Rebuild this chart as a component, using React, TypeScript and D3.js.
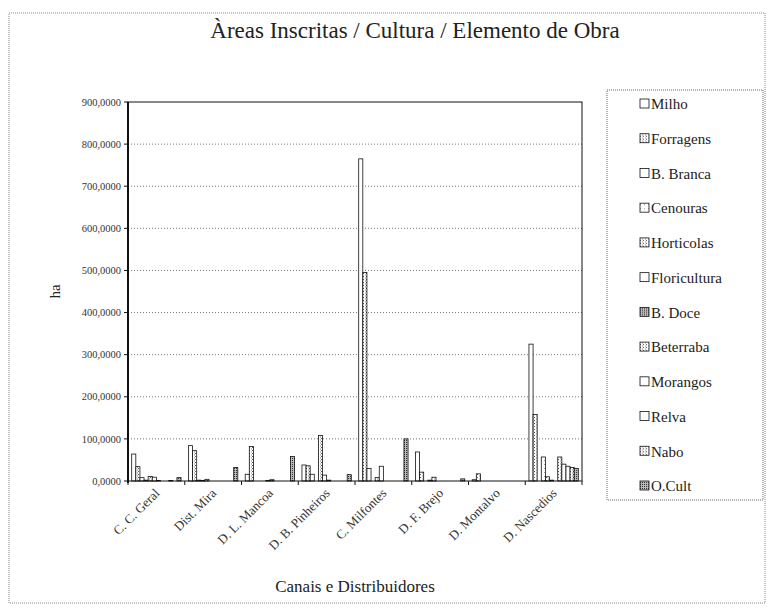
import React from 'react';
import * as d3 from 'd3';

const categories = ['C. C. Geral', 'Dist. Mira', 'D. L. Mancoa', 'D. B. Pinheiros', 'C. Milfontes', 'D. F. Brejo', 'D. Montalvo', 'D. Nascedios'];
const seriesNames = ['Milho', 'Forragens', 'B. Branca', 'Cenouras', 'Horticolas', 'Floricultura', 'B. Doce', 'Beterraba', 'Morangos', 'Relva', 'Nabo', 'O.Cult'];

const milho = [64, 84, 16, 38, 765, 69, 3, 325];
const forragens = [34, 72, 82, 36, 495, 21, 17, 158];
const bBranca = [8, 2, 0, 16, 30, 0, 0, 0];
const cenouras = [2, 1, 0, 0, 0, 2, 0, 57];
const horticolas = [11, 4, 0, 108, 8, 9, 0, 10];
const floricultura = [9, 0, 1, 14, 35, 0, 0, 2];
const bDoce = [1, 0, 3, 2, 0, 0, 0, 0];
const beterraba = [0, 0, 0, 0, 0, 0, 0, 57];
const morangos = [0, 0, 0, 0, 0, 0, 0, 40];
const relva = [1, 0, 0, 0, 0, 0, 0, 35];
const nabo = [0, 0, 0, 0, 0, 0, 0, 32];
const oCult = [8, 32, 58, 15, 100, 5, 0, 30];

const yTicks = [0, 100, 200, 300, 400, 500, 600, 700, 800, 900];

const seriesValues = [milho, forragens, bBranca, cenouras, horticolas, floricultura, bDoce, beterraba, morangos, relva, nabo, oCult];
// fill style per series: white, light dots, dark dots
const seriesFill = ['white', 'url(#light)', 'white', 'url(#faint)', 'url(#light)', 'white', 'url(#dark)', 'url(#light)', 'white', 'white', 'url(#light)', 'url(#dark)'];

const width = 767;
const height = 612;
const plot = { left: 128, right: 582, top: 102, bottom: 481 };
const font = '"Liberation Serif", "Times New Roman", serif';

const fmt = (v: number) => v.toFixed(4).replace('.', ',');

const App: React.FC = () => {
    const x0 = d3.scaleBand<string>().domain(categories).range([plot.left, plot.right]);
    const x1 = d3.scaleBand<string>().domain(seriesNames).range([0, x0.bandwidth()]).paddingOuter(0.9);
    const y = d3.scaleLinear().domain([0, 900]).range([plot.bottom, plot.top]);
    const legendY = d3.scalePoint<string>().domain(seriesNames).range([104, 486]);

    return (
        <svg width={width} height={height} style={{ position: 'absolute', left: 0, top: 0, background: 'white' }}>
            <defs>
                <pattern id="light" width="3" height="3" patternUnits="userSpaceOnUse">
                    <rect width="3" height="3" fill="white" />
                    <rect width="1" height="1" fill="#555" />
                    <rect x="2" y="1.5" width="1" height="1" fill="#888" />
                </pattern>
                <pattern id="faint" width="4" height="4" patternUnits="userSpaceOnUse">
                    <rect width="4" height="4" fill="white" />
                    <rect width="1" height="1" fill="#999" />
                </pattern>
                <pattern id="dark" width="2" height="2" patternUnits="userSpaceOnUse">
                    <rect width="2" height="2" fill="#bbb" />
                    <rect width="1" height="1" fill="#333" />
                </pattern>
            </defs>

            <rect x={9} y={13} width={756} height={590} fill="none" stroke="#888" strokeDasharray="1,1" />

            <text x={415} y={38} textAnchor="middle" fontFamily={font} fontSize={23} fill="#222">
                Àreas Inscritas / Cultura / Elemento de Obra
            </text>

            {/* gridlines */}
            <g stroke="#777" strokeDasharray="1,2">
                {yTicks.slice(1, -1).map(t => (
                    <line key={t} x1={plot.left} x2={plot.right} y1={y(t)} y2={y(t)} />
                ))}
            </g>

            {/* bars */}
            {seriesNames.map((s, si) => (
                <g key={s} fill={seriesFill[si]} stroke="#111" strokeWidth={0.8}>
                    {categories.map((c, ci) => {
                        const v = seriesValues[si][ci];
                        if (v <= 0) return null;
                        return (
                            <rect key={c} x={(x0(c) ?? 0) + (x1(s) ?? 0)} y={y(v)}
                                width={x1.bandwidth()} height={y(0) - y(v)} />
                        );
                    })}
                </g>
            ))}

            {/* plot frame */}
            <rect x={plot.left} y={plot.top} width={plot.right - plot.left} height={plot.bottom - plot.top}
                fill="none" stroke="#111" strokeWidth={1} />
            <line x1={plot.left} x2={plot.left} y1={plot.top} y2={plot.bottom + 2} stroke="#111" strokeWidth={2} />

            {/* y axis */}
            <g fontFamily={font} fontSize={10.5} fill="#333" textAnchor="end">
                {yTicks.map(t => (
                    <g key={t}>
                        <line x1={plot.left - 4} x2={plot.left} y1={y(t)} y2={y(t)} stroke="#111" />
                        <text x={plot.left - 7} y={y(t)} dy="0.35em">{fmt(t)}</text>
                    </g>
                ))}
            </g>
            <text transform={`translate(60,${(plot.top + plot.bottom) / 2}) rotate(-90)`} textAnchor="middle"
                fontFamily={font} fontSize={15} fill="#222">ha</text>

            {/* x axis */}
            <g stroke="#111">
                {categories.concat(['']).map((c, i) => {
                    const xv = plot.left + i * x0.bandwidth();
                    return <line key={i} x1={xv} x2={xv} y1={plot.bottom} y2={plot.bottom + 4} />;
                })}
            </g>
            <g fontFamily={font} fontSize={13} fill="#333" textAnchor="end">
                {categories.map(c => {
                    const cx = (x0(c) ?? 0) + x0.bandwidth() / 2;
                    return (
                        <text key={c} transform={`translate(${cx + 4},${plot.bottom + 13}) rotate(-45)`}>{c}</text>
                    );
                })}
            </g>
            <text x={(plot.left + plot.right) / 2} y={592} textAnchor="middle" fontFamily={font} fontSize={17} fill="#222">
                Canais e Distribuidores
            </text>

            {/* legend */}
            <rect x={607} y={90} width={156} height={410} fill="white" stroke="#666" strokeDasharray="1,1" />
            <g fontFamily={font} fontSize={15} fill="#222">
                {seriesNames.map((s, si) => (
                    <g key={s} transform={`translate(640,${legendY(s)})`}>
                        <rect x={0} y={-5} width={9} height={9} fill={seriesFill[si]} stroke="#111" strokeWidth={0.8} />
                        <text x={11} y={0} dy="0.35em">{s}</text>
                    </g>
                ))}
            </g>
        </svg>
    );
};

export default App;
